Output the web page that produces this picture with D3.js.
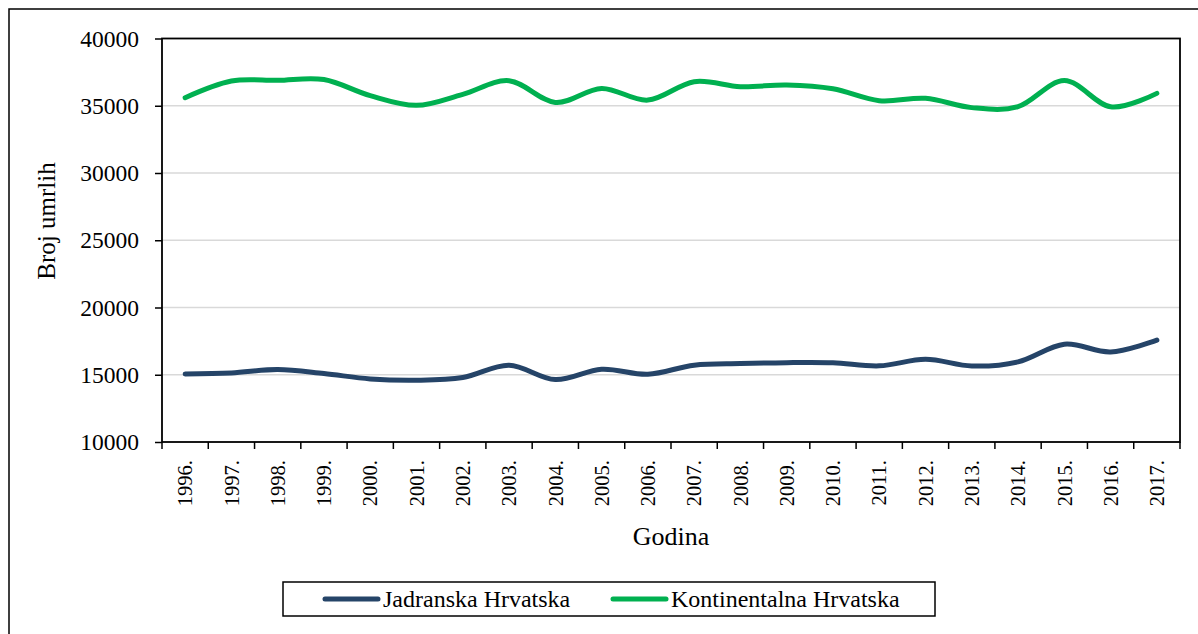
<!DOCTYPE html>
<html>
<head>
<meta charset="utf-8">
<script src="https://cdn.jsdelivr.net/npm/d3@7"></script>
<style>
  html, body { margin: 0; padding: 0; background: #fff; }
  svg, svg text { font-family: "Liberation Serif", "Times New Roman", Times, serif; }
  .grid line { stroke: #d9d9d9; stroke-width: 1.5; }
</style>
</head>
<body>
<svg id="chart" width="1198" height="634"></svg>
<script>
// data
const years = ["1996.", "1997.", "1998.", "1999.", "2000.", "2001.", "2002.", "2003.", "2004.", "2005.", "2006.",
  "2007.", "2008.", "2009.", "2010.", "2011.", "2012.", "2013.", "2014.", "2015.", "2016.", "2017."];
const jadranska = [15060, 15130, 15390, 15090, 14690, 14590, 14790, 15710, 14640, 15410, 15040,
  15710, 15830, 15900, 15890, 15660, 16150, 15650, 15960, 17270, 16700, 17570];
const kontinentalna = [35600, 36840, 36890, 36950, 35750, 35030, 35850, 36860, 35250, 36290, 35420,
  36790, 36420, 36540, 36260, 35380, 35550, 34860, 34930, 36870, 34920, 35920];
const yTicks = [10000, 15000, 20000, 25000, 30000, 35000, 40000];
const seriesNames = ["Jadranska Hrvatska", "Kontinentalna Hrvatska"];
const seriesColors = ["#254468", "#00b050"];

const FONT = "'Liberation Serif', 'Times New Roman', Times, serif";
const svg = d3.select("#chart");
const plot = { left: 162, top: 38.5, right: 1180, bottom: 442 };

// outer chart frame (runs off the right/bottom edges)
svg.append("rect")
  .attr("x", 9).attr("y", 9)
  .attr("width", 1200).attr("height", 640)
  .attr("fill", "none").attr("stroke", "#000").attr("stroke-width", 1.5);

const x = d3.scaleBand().domain(years).range([plot.left, plot.right]).padding(0);
const y = d3.scaleLinear().domain([10000, 40000]).range([plot.bottom, plot.top]);

// gridlines
svg.append("g").attr("class", "grid")
  .selectAll("line")
  .data(yTicks.filter((d) => d > 10000 && d < 40000))
  .join("line")
  .attr("x1", plot.left).attr("x2", plot.right)
  .attr("y1", (d) => y(d)).attr("y2", (d) => y(d));

// y axis
const yAxis = svg.append("g")
  .attr("transform", `translate(${plot.left},0)`)
  .call(d3.axisLeft(y).tickValues(yTicks).tickSize(7).tickPadding(16).tickFormat(d3.format("d")));
yAxis.select(".domain").remove();
yAxis.selectAll(".tick line").attr("stroke", "#000").attr("stroke-width", 1.5);
yAxis.selectAll(".tick text")
  .attr("font-family", FONT)
  .attr("font-size", 23.5).attr("fill", "#000");

// x axis (ticks between categories)
const xAxis = svg.append("g")
  .attr("transform", `translate(0,${plot.bottom})`)
  .call(d3.axisBottom(x).tickSize(0));
xAxis.select(".domain").remove();
xAxis.selectAll(".tick text")
  .attr("font-family", FONT)
  .attr("font-size", 20.5).attr("fill", "#000")
  .attr("transform", "rotate(-90)")
  .attr("text-anchor", "end")
  .attr("x", -18).attr("y", 0).attr("dy", "0.35em");

const edges = years.map((d) => x(d)).concat([x(years[years.length - 1]) + x.bandwidth()]);
svg.append("g").selectAll("line")
  .data(edges)
  .join("line")
  .attr("x1", (d) => d).attr("x2", (d) => d)
  .attr("y1", plot.bottom).attr("y2", plot.bottom + 7)
  .attr("stroke", "#000").attr("stroke-width", 1.5);

// plot frame
svg.append("rect")
  .attr("x", plot.left).attr("y", plot.top)
  .attr("width", plot.right - plot.left).attr("height", plot.bottom - plot.top)
  .attr("fill", "none").attr("stroke", "#000").attr("stroke-width", 1.8);

// smoothed lines
const line = d3.line()
  .x((d, i) => x(years[i]) + x.bandwidth() / 2)
  .y((d) => y(d))
  .curve(d3.curveCardinal.tension(0));

[jadranska, kontinentalna].forEach((vals, i) => {
  svg.append("path")
    .datum(vals)
    .attr("d", line)
    .attr("fill", "none")
    .attr("stroke", seriesColors[i])
    .attr("stroke-width", 5)
    .attr("stroke-linecap", "round")
    .attr("stroke-linejoin", "round");
});

// axis titles
svg.append("text")
  .attr("transform", `translate(55,221) rotate(-90)`)
  .attr("text-anchor", "middle")
  .attr("font-family", FONT)
  .attr("font-size", 25)
  .text("Broj umrlih");

svg.append("text")
  .attr("x", 671).attr("y", 545)
  .attr("text-anchor", "middle")
  .attr("font-family", FONT)
  .attr("font-size", 26)
  .text("Godina");

// legend
svg.append("rect")
  .attr("x", 283).attr("y", 582)
  .attr("width", 652).attr("height", 34)
  .attr("fill", "#fff").attr("stroke", "#000").attr("stroke-width", 1.5);

const legendX = [325, 613];
const legend = svg.append("g").selectAll("g")
  .data(seriesNames)
  .join("g")
  .attr("transform", (d, i) => `translate(${legendX[i]},599)`);
legend.append("line")
  .attr("x1", 0).attr("x2", 53)
  .attr("stroke", (d, i) => seriesColors[i])
  .attr("stroke-width", 5)
  .attr("stroke-linecap", "round");
legend.append("text")
  .attr("x", 58).attr("dy", "0.35em")
  .attr("font-family", FONT)
  .attr("font-size", 24)
  .text((d) => d);
</script>
</body>
</html>
